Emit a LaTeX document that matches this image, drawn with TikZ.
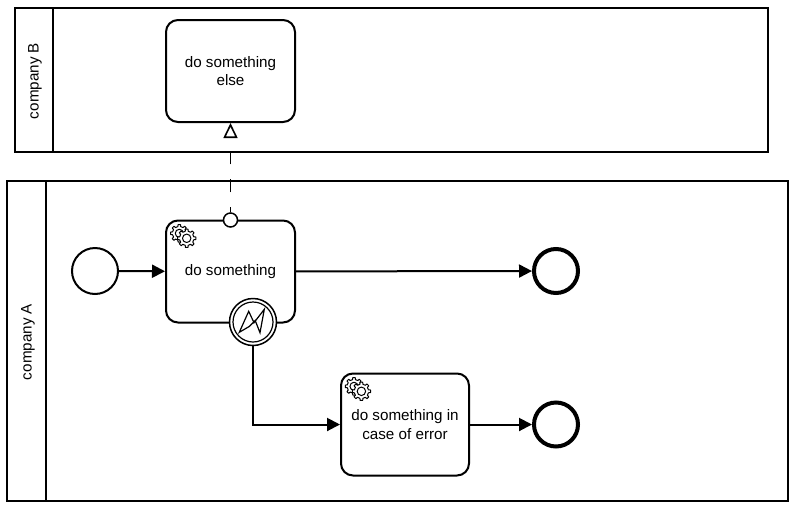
\documentclass[tikz,border=0pt]{standalone}
\usepackage{fontspec}
\setmainfont{Liberation Sans}
\usetikzlibrary{arrows.meta,calc}
\tikzset{
  poolline/.style={draw=black,line width=2pt},
  lbl/.style={font=\fontsize{15.2}{18}\selectfont,text=black,rotate=90,inner sep=0pt},
  taskbox/.style={draw=black,line width=2pt,rounded corners=12pt,fill=white,inner sep=0pt,minimum width=129pt,minimum height=102pt,align=center,font=\fontsize{15.2}{18.5}\selectfont},
  startev/.style={draw=black,circle,line width=2pt,fill=white,minimum size=46pt,inner sep=0pt},
  endev/.style={draw=black,circle,line width=4pt,fill=white,minimum size=44pt,inner sep=0pt},
  boundev/.style={draw=black,circle,line width=1.5pt,fill=white,minimum size=47pt,inner sep=0pt},
  flow/.style={draw=black,line width=2pt,-{Triangle[length=13pt,width=13pt]}},
  msgflow/.style={draw=black,line width=1.6pt,dash pattern=on 13pt off 15pt,dash phase=8pt,-{Triangle[open,length=15pt,width=14pt,line width=1.6pt,fill=white]}},
  gearline/.style={draw=black,line width=1pt,fill=white,line join=round}
}
\newcommand{\gearat}[3]{%
  \draw[gearline] ($(#1,#2)+(0-12:{#3*0.78})$)
    \foreach \a in {0,45,...,315}{
      -- ($(#1,#2)+(\a-12:{#3*0.78})$) -- ($(#1,#2)+(\a-8:#3)$) -- ($(#1,#2)+(\a+8:#3)$) -- ($(#1,#2)+(\a+12:{#3*0.78})$)
    } -- cycle;
  \draw[gearline] (#1,#2) circle[radius={#3*0.46}];
}
\begin{document}
\begin{tikzpicture}[x=1pt,y=-1pt]
\useasboundingbox (0,0) rectangle (800,509);
% pools
\draw[poolline] (15,8) rectangle (768,152);
\draw[poolline] (53,8) -- (53,152);
\node[lbl] (labB) at (35,81) {company B};
\draw[poolline] (7,181) rectangle (788,501);
\draw[poolline] (46,181) -- (46,501);
\node[lbl] (labA) at (28,342) {company A};
% tasks
\node[taskbox] (else) at (230.5,71) {do something\\else};
\node[taskbox] (do) at (230.5,271.5) {\raisebox{-1pt}{do something}};
\node[taskbox,minimum width=128pt] (err) at (405,424.5) {\raisebox{1pt}{do something in}\\case of error};
% events
\node[startev] (start) at (95,271) {};
\node[endev] (end1) at (556,271) {};
\node[endev] (end2) at (556,424.5) {};
\node[boundev] (bnd) at (253,322) {};
\draw[draw=black,line width=1.2pt] (bnd.center) circle[radius=20];
\draw[draw=black,line width=1.2pt,line join=miter]
  (239.3,332.3) -- (248.7,311.3) -- (254,322.7) -- (264.3,309.3) -- (260,332.7) -- (255.2,320.5) -- (249.2,326.5) -- cycle;
% message flow
\node[draw=black,circle,line width=1.5pt,fill=white,minimum size=14pt,inner sep=0pt] (msg) at (230.5,220) {};
\draw[msgflow] (msg.north) -- (else.south);
% sequence flows
\draw[flow] (start) -- (do);
\draw[flow] (do) -- (end1);
\draw[flow] (bnd.south) |- (err.west);
\draw[flow] (err) -- (end2);
% gears
\gearat{179.3}{233.3}{8.8}
\gearat{186.7}{238.3}{9.2}
\gearat{354}{386.3}{8.8}
\gearat{361.4}{391.3}{9.2}
\end{tikzpicture}
\end{document}
